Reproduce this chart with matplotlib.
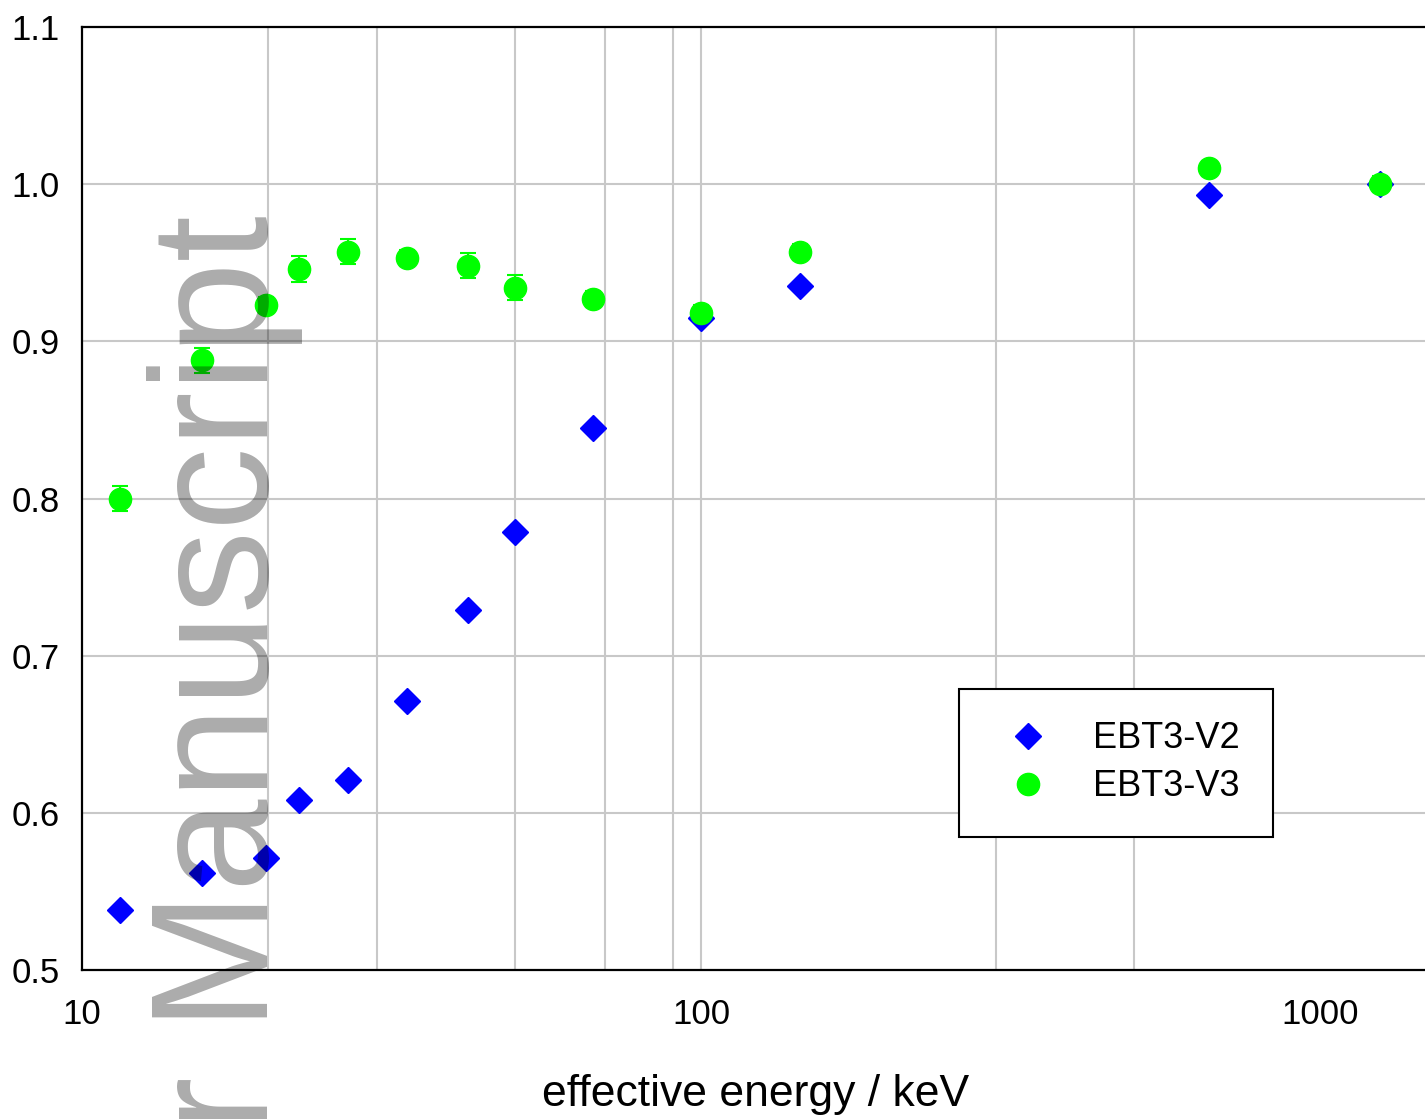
import matplotlib
matplotlib.use("Agg")
import matplotlib.pyplot as plt
from matplotlib.lines import Line2D
from matplotlib.ticker import FixedLocator, NullFormatter, FixedFormatter

plt.rcParams['font.family'] = ['Liberation Sans', 'DejaVu Sans']

# Data
energy = [11.5, 15.6, 19.8, 22.4, 26.9, 33.5, 42.0, 50.0, 67.0, 100.0, 144.5, 662.0, 1250.0]
v2 = [0.538, 0.562, 0.571, 0.608, 0.621, 0.671, 0.729, 0.779, 0.845, 0.915, 0.935, 0.993, 1.000]
v3 = [0.800, 0.888, 0.923, 0.946, 0.957, 0.953, 0.948, 0.934, 0.927, 0.918, 0.957, 1.010, 1.000]
v3_err = [0.008, 0.008, 0.005, 0.008, 0.008, 0.005, 0.008, 0.008, 0.005, 0.005, 0.005, 0.005, 0.005]

series_labels = ['EBT3-V2', 'EBT3-V3']
xticks = [10, 100, 1000]
xtick_labels = ['10', '100', '1000']
yticks = [0.5, 0.6, 0.7, 0.8, 0.9, 1.0, 1.1]
ytick_labels = ['0.5', '0.6', '0.7', '0.8', '0.9', '1.0', '1.1']
xgrid = [20, 30, 50, 70, 90, 100, 300, 500]

W, H = 1425, 1119
fig = plt.figure(figsize=(W / 100, H / 100), dpi=100)
ax = fig.add_axes([82 / W, (H - 970) / H, (1429 - 82) / W, (970 - 27) / H])

ax.set_xscale('log')
ax.set_xlim(10, 1500)
ax.set_ylim(0.5, 1.1)

ax.xaxis.set_major_locator(FixedLocator(xticks))
ax.xaxis.set_major_formatter(FixedFormatter(xtick_labels))
ax.xaxis.set_minor_locator(FixedLocator([]))
ax.xaxis.set_minor_formatter(NullFormatter())
ax.set_yticks(yticks)
ax.set_yticklabels(ytick_labels)

for g in xgrid:
    ax.axvline(g, color='#c8c8c8', lw=1.5, zorder=0)
for yv in yticks[1:-1]:
    ax.axhline(yv, color='#c8c8c8', lw=1.5, zorder=0)

ax.tick_params(axis='both', length=0, labelsize=25)
ax.tick_params(axis='y', pad=16)
ax.tick_params(axis='x', pad=20)

for s in ['left', 'bottom', 'top']:
    ax.spines[s].set_linewidth(1.6)
    ax.spines[s].set_color('black')
ax.spines['right'].set_visible(False)

ax.plot(energy, v2, linestyle='none', marker='D', ms=13, color='#0000ff',
        mec='#0000ff', zorder=3)
ax.errorbar(energy, v3, yerr=v3_err, linestyle='none', marker='o', ms=16,
            color='#00ff00', mec='#00ff00', ecolor='#00ff00', elinewidth=1.5,
            capsize=5.5, capthick=1.5, zorder=4)

ax.set_xlabel('effective energy / keV', fontsize=32, labelpad=31)

handles = [
    Line2D([], [], linestyle='none', marker='D', ms=13, color='#0000ff', mec='#0000ff'),
    Line2D([], [], linestyle='none', marker='o', ms=16, color='#00ff00', mec='#00ff00'),
]
leg = ax.legend(handles, series_labels, loc='upper left',
                bbox_to_anchor=((959 - 82) / (1429 - 82), (970 - 689) / (970 - 27)),
                borderaxespad=0, fontsize=26, frameon=True, fancybox=False,
                edgecolor='black', framealpha=1, handlelength=2.0,
                handletextpad=0.82, borderpad=0.9, labelspacing=0.35)
leg.get_frame().set_linewidth(1.5)

# Watermark
fig.text(268 / W, (H - 215) / H, 'Author Manuscript', rotation=90,
         rotation_mode='anchor', ha='right', va='baseline',
         fontsize=120, color='black', alpha=0.33, zorder=10)

fig.savefig('out.png', dpi=100)
